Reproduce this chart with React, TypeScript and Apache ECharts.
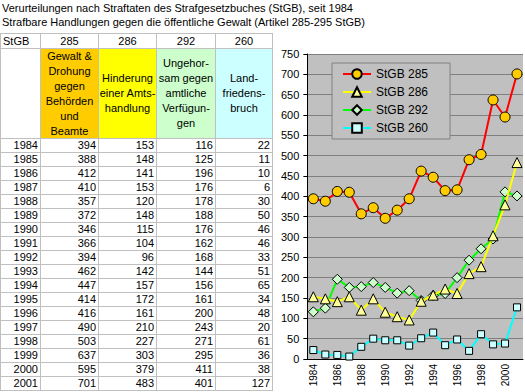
import React, { useEffect, useRef } from "react";
import * as echarts from "echarts";

const years = ["1984","1985","1986","1987","1988","1989","1990","1991","1992","1993","1994","1995","1996","1997","1998","1999","2000","2001"];
const s285 = [394,388,412,410,357,372,346,366,394,462,447,414,416,490,503,637,595,701];
const s286 = [153,148,141,153,120,148,115,104,96,142,157,172,161,210,227,303,379,483];
const s292 = [116,125,196,176,178,188,176,162,168,144,156,161,200,243,271,295,411,401];
const s260 = [22,11,10,6,30,50,46,46,33,51,65,34,48,20,61,36,38,127];
const codes = ["285","286","292","260"];
const descriptions = [
  ["Gewalt &","Drohung","gegen","Behörden","und","Beamte"],
  ["Hinderung","einer Amts-","handlung"],
  ["Ungehor-","sam gegen","amtliche","Verfügun-","gen"],
  ["Land-","friedens-","bruch"],
];
const titleLines = [
  "Verurteilungen nach Straftaten des Strafgesetzbuches (StGB), seit 1984",
  "Strafbare Handlungen gegen die öffentliche Gewalt (Artikel 285-295 StGB)",
];

const FONT = "'Liberation Sans', Arial, sans-serif";
const colEdges = [0, 40, 98, 156, 215, 272];
const descColors = ["#FFCC00", "#FFFF00", "#CCFFCC", "#CCFFFF"];
const headerTop = 33, headerBottom = 48, descBottom = 138, rowH = 14;
const gridColor = "#C0C0C0";

function Cell(props: { l: number; t: number; w: number; h: number; bg?: string; align?: string; children?: any }) {
  const { l, t, w, h, bg, align, children } = props;
  return (
    <div style={{
      position: "absolute", left: l, top: t, width: w + 1, height: h + 1, boxSizing: "border-box",
      border: `1px solid ${gridColor}`, background: bg || "#fff",
      display: "flex", flexDirection: "column", justifyContent: "center",
      alignItems: align === "right" ? "flex-end" : align === "left" ? "flex-start" : "center",
      textAlign: (align as any) || "center", padding: "0 2px", fontSize: 11, lineHeight: "15px", whiteSpace: "nowrap",
    }}>{children}</div>
  );
}

export default function App() {
  const ref = useRef<HTMLDivElement>(null);
  useEffect(() => {
    const chart = echarts.init(ref.current!, null, { renderer: "svg" });
    const mk = (name: string, data: number[], color: string, symbol: string, size: number, fill: string, z: number) => ({
      name, type: "line", data, z,
      lineStyle: { color, width: 2 },
      itemStyle: { color: fill, borderColor: "#000", borderWidth: 1 },
      symbol, symbolSize: size, showAllSymbol: true,
      emphasis: { disabled: true },
    });
    chart.setOption({
      animation: false,
      backgroundColor: "#fff",
      textStyle: { fontFamily: FONT },
      grid: { left: 29, top: 24, width: 216, height: 305, show: true, backgroundColor: "#C0C0C0", borderWidth: 0 },
      legend: {
        data: codes.map((c) => "StGB " + c),
        orient: "vertical", left: 54, top: 33, width: 100,
        backgroundColor: "#C0C0C0", borderColor: "#808080", borderWidth: 1,
        padding: [5, 22, 5, 10], itemGap: 6, itemWidth: 28, itemHeight: 12,
        textStyle: { fontSize: 12, color: "#000", fontFamily: FONT },
      },
      xAxis: {
        type: "category", data: years, boundaryGap: true,
        axisLine: { lineStyle: { color: "#000" } },
        axisTick: { interval: 0, length: 4, lineStyle: { color: "#000" } },
        axisLabel: { interval: 1, rotate: 90, fontSize: 10, color: "#000", margin: 5, fontFamily: FONT },
        splitLine: { show: false },
      },
      yAxis: {
        type: "value", min: 0, max: 750, interval: 50,
        axisLine: { show: true, lineStyle: { color: "#000" } },
        axisTick: { show: true, length: 4, lineStyle: { color: "#000" } },
        axisLabel: { fontSize: 11, color: "#000", margin: 8, fontFamily: FONT },
        splitLine: { lineStyle: { color: "#808080", width: 1 } },
      },
      series: [
        mk("StGB 285", s285, "#FF0000", "circle", 10, "#FFCC00", 5),
        mk("StGB 286", s286, "#FFFF00", "triangle", 10, "#FFFF99", 4),
        mk("StGB 292", s292, "#00FF00", "diamond", 10, "#CCFFCC", 3),
        mk("StGB 260", s260, "#00FFFF", "rect", 7, "#CCFFFF", 2),
      ],
    });
    return () => chart.dispose();
  }, []);

  const cells: any[] = [];
  cells.push(<Cell key="h0" l={colEdges[0]} t={headerTop} w={colEdges[1] - colEdges[0]} h={headerBottom - headerTop} align="left">StGB</Cell>);
  codes.forEach((c, i) => {
    cells.push(<Cell key={"h" + c} l={colEdges[i + 1]} t={headerTop} w={colEdges[i + 2] - colEdges[i + 1]} h={headerBottom - headerTop}>{c}</Cell>);
  });
  cells.push(<Cell key="d0" l={colEdges[0]} t={headerBottom} w={colEdges[1] - colEdges[0]} h={descBottom - headerBottom} />);
  descriptions.forEach((lines, i) => {
    cells.push(
      <Cell key={"d" + i} l={colEdges[i + 1]} t={headerBottom} w={colEdges[i + 2] - colEdges[i + 1]} h={descBottom - headerBottom} bg={descColors[i]}>
        {lines.map((ln, j) => <div key={j} style={{ fontSize: 11, lineHeight: "15px" }}>{ln}</div>)}
      </Cell>
    );
  });
  const series = [s285, s286, s292, s260];
  years.forEach((y, r) => {
    const t = descBottom + r * rowH;
    cells.push(<Cell key={"y" + y} l={colEdges[0]} t={t} w={colEdges[1] - colEdges[0]} h={rowH} align="right">{y}</Cell>);
    series.forEach((s, i) => {
      cells.push(<Cell key={"v" + y + i} l={colEdges[i + 1]} t={t} w={colEdges[i + 2] - colEdges[i + 1]} h={rowH} align="right">{String(s[r])}</Cell>);
    });
  });

  return (
    <div style={{ position: "absolute", left: 0, top: 0, width: 525, height: 392, background: "#fff", overflow: "hidden", fontFamily: FONT, color: "#000" }}>
      <div ref={ref} style={{ position: "absolute", left: 278, top: 30, width: 247, height: 362 }} />
      {titleLines.map((t, i) => (
        <div key={i} style={{ position: "absolute", left: 2, top: 1 + i * 14, fontSize: 11, lineHeight: "14px", whiteSpace: "nowrap" }}>{t}</div>
      ))}
      {cells}
    </div>
  );
}
